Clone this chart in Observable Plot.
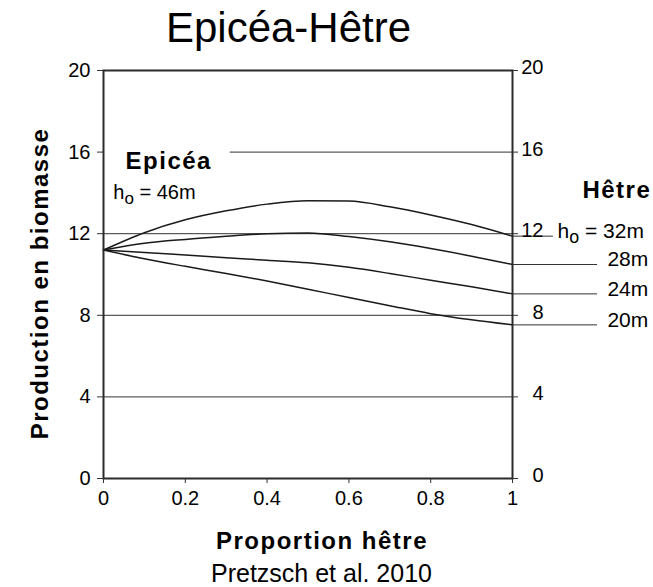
<!DOCTYPE html>
<html><head><meta charset="utf-8">
<script src="https://cdn.jsdelivr.net/npm/d3@7"></script>
<script src="https://cdn.jsdelivr.net/npm/@observablehq/plot@0.6"></script>
<style>
html,body{margin:0;padding:0;background:#fff;overflow:hidden;width:653px;height:587px;}
body{font-family:"Liberation Sans",Arial,sans-serif;color:#000;}
#title{height:56px;line-height:56px;font-size:42px;text-align:center;transform:translateX(-38px);white-space:nowrap;}
#caption{height:22px;line-height:22px;font-size:25px;text-align:center;transform:translateX(-5px);white-space:nowrap;}
g[font-weight="bold"] text{letter-spacing:1.5px;}
</style></head><body>
<div id="title">Epicéa-Hêtre</div>
<div id="chart"></div>
<div id="caption">Pretzsch et al. 2010</div>
<script>
// Proportion of beech (x)
const proportion = [0, 0.1, 0.2, 0.3, 0.4, 0.5, 0.6, 0.7, 0.8, 0.9, 1];
// Biomass production for each beech site index (h_o)
const h32 = [11.2, 12.05, 12.68, 13.12, 13.45, 13.62, 13.6, 13.32, 12.92, 12.45, 11.88];
const h28 = [11.2, 11.53, 11.72, 11.87, 12.0, 12.04, 11.86, 11.6, 11.27, 10.9, 10.49];
const h24 = [11.2, 11.08, 10.95, 10.82, 10.7, 10.57, 10.35, 10.05, 9.72, 9.4, 9.05];
const h20 = [11.2, 10.77, 10.4, 10.05, 9.68, 9.28, 8.87, 8.47, 8.08, 7.78, 7.53];
const seriesNames = ["32m", "28m", "24m", "20m"];
const seriesValues = [h32, h28, h24, h20];
const seriesLabels = ["ho = 32m", "28m", "24m", "20m"];
const xTicks = [0, 0.2, 0.4, 0.6, 0.8, 1];
const yTicks = [0, 4, 8, 12, 16, 20];
const gridFull = [4, 8, 12];
const gridPartial = [16];

const rows = seriesNames.flatMap((name, i) =>
  proportion.map((p, j) => ({x: p, y: seriesValues[i][j], h: name})));
const ends = seriesNames.map((name, i) => ({
  h: name, y: seriesValues[i][seriesValues[i].length - 1], label: seriesLabels[i], first: i === 0
}));

const font = "'Liberation Sans', Arial, sans-serif";
const chart = Plot.plot({
  width: 653,
  height: 506,
  marginTop: 14,
  marginLeft: 103,
  marginRight: 141,
  marginBottom: 84,
  style: {fontFamily: font, fontSize: "20px", color: "#000", background: "#fff"},
  x: {domain: [0, 1]},
  y: {domain: [0, 20]},
  marks: [
    Plot.ruleY(gridFull, {stroke: "#333", strokeWidth: 1}),
    Plot.ruleY(gridPartial, {x1: 0.31, x2: 1, stroke: "#333", strokeWidth: 1}),
    Plot.ruleY(ends, {y: "y", x1: 1, x2: d => d.first ? 1.1 : 1.208, stroke: "#333", strokeWidth: 1}),
    Plot.line(rows, {x: "x", y: "y", z: "h", stroke: "#1a1a1a", strokeWidth: 1.5, curve: "monotone-x"}),
    Plot.frame({stroke: "#2a2a2a", strokeWidth: 2}),
    Plot.axisX({ticks: xTicks, tickSize: 5, tickPadding: 7, fontSize: 20, label: null, tickFormat: d => String(d), stroke: "#333"}),
    Plot.axisY({anchor: "left", ticks: yTicks, tickSize: 6, tickPadding: 7, fontSize: 20, label: null, stroke: "#333"}),
    Plot.axisY({anchor: "right", ticks: yTicks, tickSize: 5, tickFormat: () => "", label: null, stroke: "#333"}),
    Plot.axisY({anchor: "right", ticks: yTicks, tickSize: 0, tickPadding: 31, textAnchor: "end", dy: -3, fontSize: 20, label: null}),
    Plot.text(ends, {x: d => d.first ? 1.11 : 1.232, y: "y", text: "label", textAnchor: "start", lineAnchor: "middle", dy: -5, fontSize: 21, fill: "#000"}),
    Plot.text(["Hêtre"], {x: 1.171, y: 14.15, textAnchor: "start", lineAnchor: "middle", fontSize: 24, fontWeight: "bold", fill: "#000"}),
    Plot.text(["Epicéa"], {x: 0.054, y: 15.57, textAnchor: "start", lineAnchor: "middle", fontSize: 24, fontWeight: "bold", fill: "#000"}),
    Plot.text(["ho = 46m"], {x: 0.024, y: 14.0, textAnchor: "start", lineAnchor: "middle", fontSize: 20, fill: "#000"}),
    Plot.text(["Production en biomasse"], {frameAnchor: "left", rotate: -90, textAnchor: "middle", lineAnchor: "middle", dx: -63, dy: 9, fontSize: 24, fontWeight: "bold", fill: "#000"}),
    Plot.text(["Proportion hêtre"], {frameAnchor: "bottom", textAnchor: "middle", lineAnchor: "middle", dx: 14, dy: 63, fontSize: 24, fontWeight: "bold", fill: "#000"})
  ]
});
document.getElementById("chart").appendChild(chart);

// subscript "o" in h_o labels
const NS = "http://www.w3.org/2000/svg";
chart.querySelectorAll("text").forEach(t => {
  const s = t.textContent;
  if (s.startsWith("ho =") && t.children.length === 0) {
    t.textContent = "h";
    const sub = document.createElementNS(NS, "tspan");
    sub.setAttribute("dy", "5");
    sub.setAttribute("font-size", "0.85em");
    sub.textContent = "o";
    const rest = document.createElementNS(NS, "tspan");
    rest.setAttribute("dy", "-5");
    rest.textContent = s.slice(2);
    t.appendChild(sub);
    t.appendChild(rest);
  }
});
</script>
</body></html>
